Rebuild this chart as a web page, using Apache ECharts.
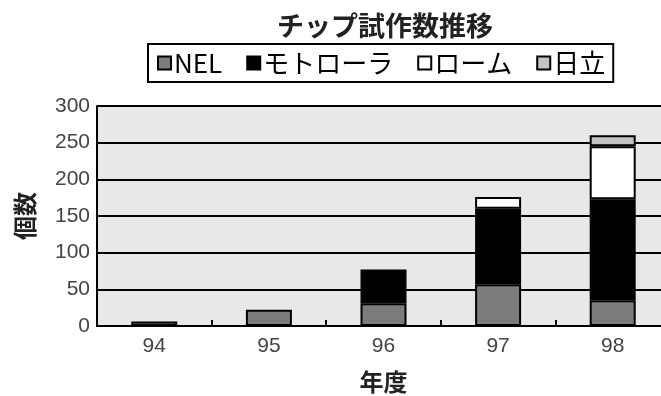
<!DOCTYPE html>
<html>
<head>
<meta charset="utf-8">
<script src="https://cdn.jsdelivr.net/npm/echarts@6/dist/echarts.min.js"></script>
<style>
html,body{margin:0;padding:0;background:#fff;}
#chart{width:661px;height:396px;}
</style>
</head>
<body>
<div id="chart"></div>
<script>
const categories = ['94', '95', '96', '97', '98'];
const seriesNames = ['NEL', 'モトローラ', 'ローム', '日立'];
const nelValues = [6, 22, 31, 57, 35];
const motorolaValues = [0, 0, 46, 103, 138];
const rohmValues = [0, 0, 0, 16, 72];
const hitachiValues = [0, 0, 0, 0, 15];
const yTicks = [0, 50, 100, 150, 200, 250, 300];

const colors = ['#7c7c7c', '#000000', '#ffffff', '#c4c4c4'];
const valueLists = [nelValues, motorolaValues, rohmValues, hitachiValues];

const jp = '"Noto Sans CJK JP", sans-serif';
const num = '"Liberation Sans", Arial, sans-serif';

const chart = echarts.init(document.getElementById('chart'), null, {renderer: 'canvas'});
chart.setOption({
  animation: false,
  backgroundColor: '#ffffff',
  title: {
    text: 'チップ試作数推移',
    left: 272, top: 7,
    textStyle: {fontFamily: jp, fontSize: 27, fontWeight: 'bold', color: '#222'}
  },
  legend: {
    left: 148, top: 44,
    data: seriesNames,
    itemWidth: 13, itemHeight: 13, itemGap: 24,
    icon: 'rect',
    borderColor: '#000', borderWidth: 2,
    padding: [6, 8, 6, 9],
    textStyle: {fontFamily: jp, fontSize: 26, color: '#000', padding: [0, 0, 0, -2]}
  },
  grid: {
    left: 97, top: 106, right: -9, bottom: 70,
    containLabel: false, outerBoundsMode: 'none',
    show: true, backgroundColor: '#e8e8e8', borderWidth: 0
  },
  xAxis: {
    type: 'category',
    data: categories,
    name: '年度', nameLocation: 'middle', nameGap: 44,
    nameTextStyle: {fontFamily: jp, fontSize: 24, fontWeight: 'bold', color: '#222'},
    axisLine: {lineStyle: {color: '#000', width: 2}},
    axisTick: {show: true, inside: true, length: 6, lineStyle: {color: '#000', width: 2}},
    axisLabel: {fontFamily: num, fontSize: 21, color: '#444', margin: 10}
  },
  yAxis: {
    type: 'value',
    min: yTicks[0], max: yTicks[yTicks.length - 1], interval: 50,
    name: '個数', nameLocation: 'middle', nameGap: 60, nameRotate: 90,
    nameTextStyle: {fontFamily: jp, fontSize: 24, fontWeight: 'bold', color: '#222'},
    axisLine: {show: true, lineStyle: {color: '#000', width: 2}},
    axisTick: {show: false},
    axisLabel: {fontFamily: num, fontSize: 21, color: '#444', margin: 7},
    splitLine: {lineStyle: {color: '#000', width: 2}}
  },
  series: seriesNames.map((name, i) => ({
    name: name,
    type: 'bar',
    stack: 'total',
    barWidth: 46,
    data: valueLists[i].map(v => (v === 0 ? '-' : v)),
    itemStyle: {color: colors[i], borderColor: '#000', borderWidth: 2}
  }))
});
</script>
</body>
</html>
